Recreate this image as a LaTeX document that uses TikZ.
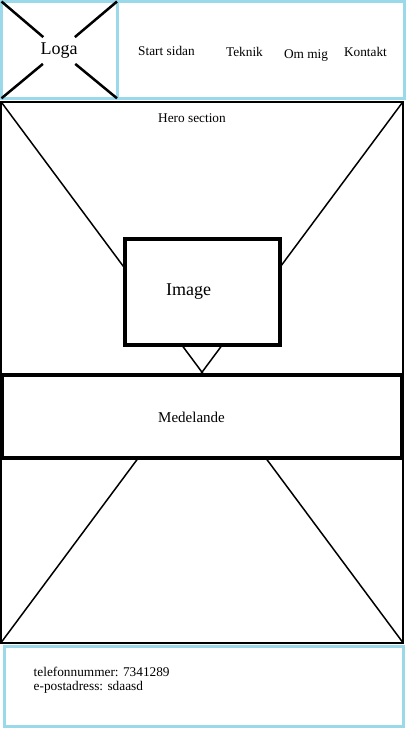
\documentclass[tikz,border=0pt]{standalone}
\usepackage{fontspec}
\setmainfont{Liberation Serif}
\usepackage{tikz}
\usetikzlibrary{positioning}
\definecolor{paintblue}{RGB}{153,217,234}

\begin{document}
\begin{tikzpicture}[x=1pt,y=-1pt,-,thick,
    blue box/.style={draw=paintblue,line width=3pt,inner sep=0pt,outer sep=0pt,anchor=north west},
    black box/.style={draw,fill=white,line width=4pt,inner sep=0pt,outer sep=0pt,anchor=north west},
    nav node/.style={font=\fontsize{13.3}{16}\selectfont,anchor=base,inner sep=0pt},
    big node/.style={font=\fontsize{18}{22}\selectfont,anchor=base,inner sep=0pt}]
  \useasboundingbox[fill=white] (0,0) rectangle (408,729);
  \begin{scope}
    % header
    \node[blue box,minimum width=403pt,minimum height=96.8pt] (header) at (1.5,1.5) {};
    \node[blue box,minimum width=115.5pt,minimum height=96.8pt] (logo) at (1.5,1.5) {};
    \node[fill=white,inner sep=1pt,minimum height=26pt,font=\fontsize{18}{22}\selectfont] (loga) at (59,50.5) {Loga};
    \path[line width=2.5pt] (logo.north west) edge (loga);
    \path[line width=2.5pt] (logo.north east) edge (loga);
    \path[line width=2.5pt] (logo.south west) edge (loga);
    \path[line width=2.5pt] (logo.south east) edge (loga);
    \node[nav node] (start) at (166.5,55.7) {Start sidan};
    \node[nav node] (teknik) at (244.5,56.7) {Teknik};
    \node[nav node] (om) at (306,58.3) {Om mig};
    \node[nav node] (kontakt) at (365.5,56.7) {Kontakt};

    % hero
    \node[draw,line width=2pt,inner sep=0pt,outer sep=0pt,anchor=north west,minimum width=402pt,minimum height=541pt] (hero) at (1,101.7) {};
    \path[line width=1.5pt] (hero.north west) edge (hero.south east);
    \path[line width=1.5pt] (hero.north east) edge (hero.south west);
    \node[nav node] (herotext) at (192,122.3) {Hero section};
    \node[black box,minimum width=154.4pt,minimum height=106pt] (image) at (125.3,239.3) {};
    \node[big node] (imagetext) at (188.5,295) {Image};
    \node[black box,minimum width=400.3pt,minimum height=83.3pt] (medel) at (2,374.7) {};
    \node[nav node,font=\fontsize{15}{18}\selectfont] (medeltext) at (191.5,422.3) {Medelande};

    % footer
    \node[blue box,minimum width=398.8pt,minimum height=79.6pt] (footer) at (4.2,646.7) {};
    \node[nav node,anchor=base west] (phone) at (33.3,676) {telefonnummer: 7341289};
    \node[nav node,anchor=base west] (mail) at (33.3,690.7) {e-postadress: sdaasd};
  \end{scope}
\end{tikzpicture}
\end{document}
